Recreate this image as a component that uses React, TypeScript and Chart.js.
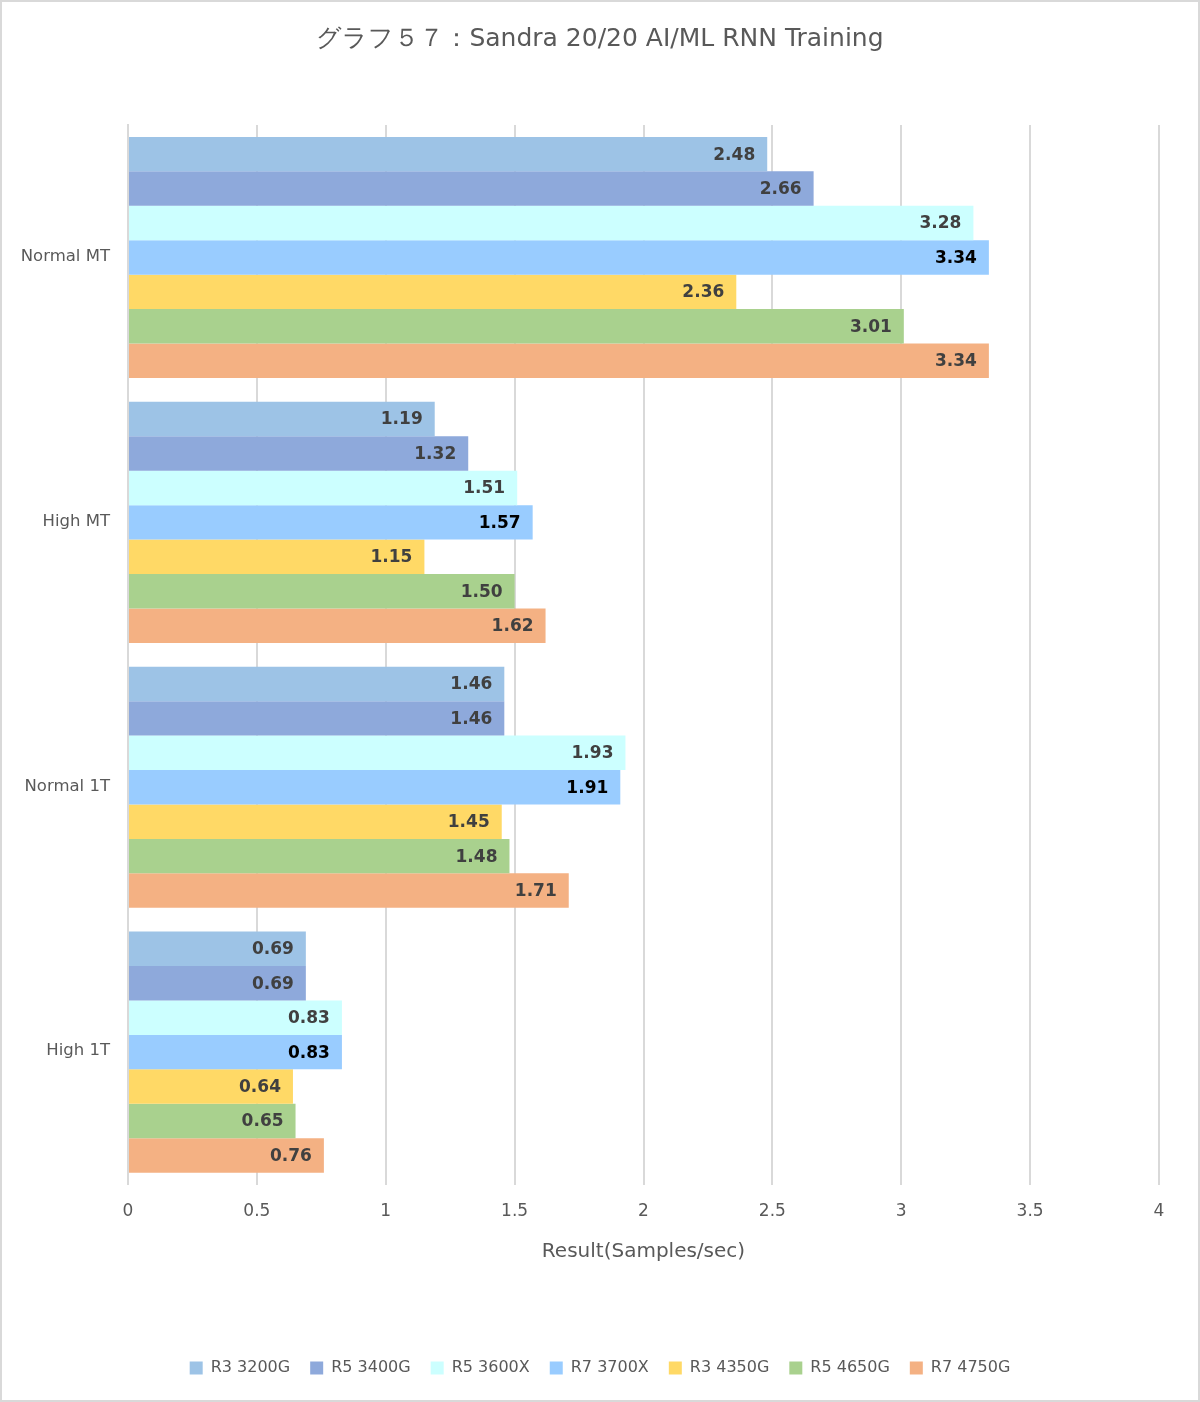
import React, { useEffect, useRef } from "react";
import { Chart, registerables } from "chart.js";

Chart.register(...registerables);

const categories = ["Normal MT", "High MT", "Normal 1T", "High 1T"];
const seriesNames = ["R3 3200G", "R5 3400G", "R5 3600X", "R7 3700X", "R3 4350G", "R5 4650G", "R7 4750G"];
const seriesColors = ["#9DC3E6", "#8EA9DB", "#CCFFFF", "#99CCFF", "#FFD966", "#A9D18E", "#F4B183"];
const r3_3200g = [2.48, 1.19, 1.46, 0.69];
const r5_3400g = [2.66, 1.32, 1.46, 0.69];
const r5_3600x = [3.28, 1.51, 1.93, 0.83];
const r7_3700x = [3.34, 1.57, 1.91, 0.83];
const r3_4350g = [2.36, 1.15, 1.45, 0.64];
const r5_4650g = [3.01, 1.50, 1.48, 0.65];
const r7_4750g = [3.34, 1.62, 1.71, 0.76];
const seriesValues = [r3_3200g, r5_3400g, r5_3600x, r7_3700x, r3_4350g, r5_4650g, r7_4750g];
const xTicks = [0, 0.5, 1, 1.5, 2, 2.5, 3, 3.5, 4];

const FONT = "'DejaVu Sans', Verdana, sans-serif";

const labelPlugin = {
  id: "barLabels",
  afterDatasetsDraw(chart: any) {
    const ctx = chart.ctx;
    ctx.save();
    ctx.font = `bold 17px ${FONT}`;
    ctx.textAlign = "right";
    ctx.textBaseline = "middle";
    chart.data.datasets.forEach((ds: any, di: number) => {
      const meta = chart.getDatasetMeta(di);
      meta.data.forEach((bar: any, i: number) => {
        const v = ds.data[i];
        ctx.fillStyle = di === 3 ? "#000000" : "#404040";
        ctx.fillText(v.toFixed(2), bar.x - 12, bar.y + 1);
      });
    });
    // category labels on the y axis
    const yScale = chart.scales.y;
    ctx.font = `16.5px ${FONT}`;
    ctx.fillStyle = "#595959";
    categories.forEach((c, i) => {
      ctx.fillText(c, yScale.right - 18, yScale.getPixelForTick(i) - 1);
    });
    ctx.restore();
  },
};

const borderPlugin = {
  id: "outerBorder",
  afterDraw(chart: any) {
    const ctx = chart.ctx;
    ctx.save();
    ctx.strokeStyle = "#d9d9d9";
    ctx.lineWidth = 2;
    ctx.strokeRect(1, 1, chart.width - 2, chart.height - 2);
    ctx.restore();
  },
};

export default function App() {
  const ref = useRef<HTMLCanvasElement>(null);
  useEffect(() => {
    if (!ref.current) return;
    const chart = new Chart(ref.current, {
      type: "bar",
      data: {
        labels: categories,
        datasets: seriesNames.map((name, i) => ({
          label: name,
          data: seriesValues[i],
          backgroundColor: seriesColors[i],
          borderWidth: 0,
          barPercentage: 1,
          categoryPercentage: 0.91,
        })),
      },
      options: {
        indexAxis: "y",
        animation: false,
        responsive: false,
        maintainAspectRatio: false,
        layout: { padding: { left: 41, right: 41, top: 0, bottom: 16 } },
        plugins: {
          title: {
            display: true,
            text: "グラフ５７：Sandra 20/20 AI/ML RNN Training",
            color: "#595959",
            font: { family: FONT, size: 25, weight: "normal" },
            padding: { top: 24, bottom: 71 },
          },
          legend: {
            position: "bottom",
            labels: {
              color: "#595959",
              font: { family: FONT, size: 16 },
              boxWidth: 13,
              boxHeight: 13,
              padding: 20,
            },
          },
          tooltip: { enabled: false },
        },
        scales: {
          x: {
            min: 0,
            max: 4,
            afterBuildTicks(scale: any) {
              scale.ticks = xTicks.map((v) => ({ value: v }));
            },
            ticks: {
              color: "#595959",
              font: { family: FONT, size: 17 },
              padding: 17,
              callback: (v: any) => String(v),
            },
            grid: { color: "#d9d9d9", lineWidth: 2, drawTicks: false },
            border: { display: false },
            title: {
              display: true,
              text: "Result(Samples/sec)",
              color: "#595959",
              font: { family: FONT, size: 20 },
              padding: { top: 1, bottom: 76 },
            },
          },
          y: {
            afterFit(scale: any) {
              scale.width = 87;
            },
            ticks: { display: false },
            grid: { display: false, drawTicks: false },
            border: { display: true, color: "#d9d9d9", width: 2 },
          },
        },
      },
      plugins: [labelPlugin, borderPlugin],
    } as any);
    return () => chart.destroy();
  }, []);
  return (
    <div style={{ position: "absolute", left: 0, top: 0, width: 1200, height: 1402, background: "#fff" }}>
      <canvas ref={ref} width={1200} height={1402} />
    </div>
  );
}
